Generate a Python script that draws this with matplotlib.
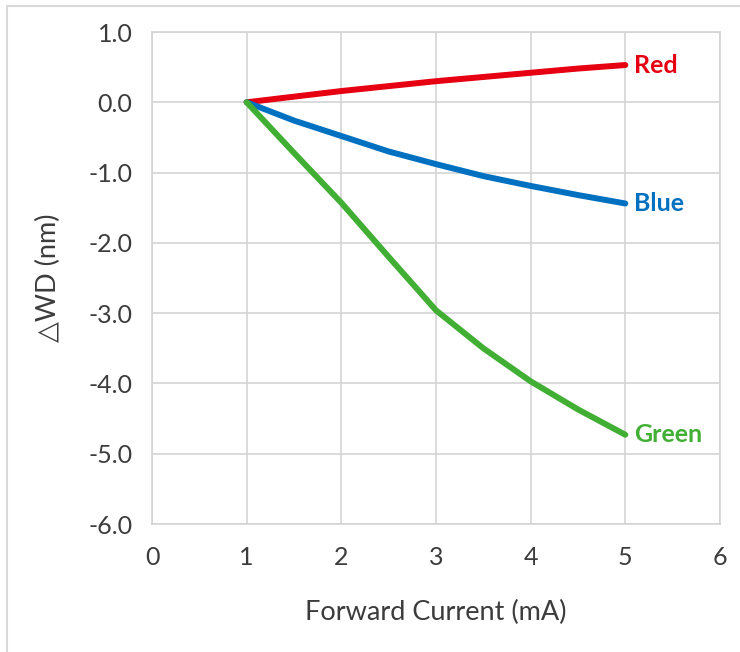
import matplotlib.pyplot as plt
import matplotlib.patches as mpatches

# ── Data ─────────────────────────────────────────────────────────────────────
current = [1.0, 1.5, 2.0, 2.5, 3.0, 3.5, 4.0, 4.5, 5.0]
red_shift = [0.0, 0.08, 0.16, 0.23, 0.30, 0.36, 0.42, 0.48, 0.53]
blue_shift = [0.0, -0.26, -0.48, -0.70, -0.88, -1.05, -1.19, -1.32, -1.44]
green_shift = [0.0, -0.72, -1.43, -2.20, -2.96, -3.50, -3.97, -4.37, -4.73]

series_names = ["Red", "Blue", "Green"]
series_colors = ["#E60012", "#0071C1", "#41AE34"]

x_ticks = [0, 1, 2, 3, 4, 5, 6]
y_ticks = [1.0, 0.0, -1.0, -2.0, -3.0, -4.0, -5.0, -6.0]

GRID = "#D4D4D4"
TEXT = "#3C3C3C"
FONT = ["Lato", "DejaVu Sans"]

plt.rcParams["font.family"] = FONT

fig = plt.figure(figsize=(7.4, 6.52), dpi=100)

# light outer frame (cut off at right/bottom like the reference)
fig.add_artist(mpatches.Rectangle((7 / 740, -0.05), 1.2, 1 - 6 / 652 + 0.05,
                                  transform=fig.transFigure, fill=False,
                                  edgecolor="#D9D9D9", lw=1.5))

ax = fig.add_axes([152 / 740, 1 - 524 / 652, (720 - 152) / 740, (524 - 32) / 652])

for name, ys, col in zip(series_names, [red_shift, blue_shift, green_shift], series_colors):
    ax.plot(current, ys, color=col, lw=4.3, solid_capstyle="round",
            solid_joinstyle="round", zorder=3)
    ax.annotate(name, xy=(current[-1], ys[-1]), xytext=(6, 0),
                textcoords="offset points", ha="left", va="center",
                color=col, fontsize=18, fontweight="bold")

ax.set_xlim(0, 6)
ax.set_ylim(-6, 1)
ax.set_xticks(x_ticks)
ax.set_yticks(y_ticks)
ax.set_yticklabels([f"{v:.1f}" for v in y_ticks])
ax.grid(True, color=GRID, lw=1.2)
ax.set_axisbelow(True)
for s in ax.spines.values():
    s.set_color(GRID)
    s.set_linewidth(1.2)
ax.tick_params(length=0, labelsize=18, labelcolor=TEXT)
ax.tick_params(axis="y", pad=14)
ax.tick_params(axis="x", pad=16)

ax.set_xlabel("Forward Current (mA)", fontsize=19.5, color=TEXT, labelpad=22)
ax.set_ylabel("△WD (nm)", fontsize=19.5, color=TEXT, labelpad=20)

fig.savefig("out.png", dpi=100)
